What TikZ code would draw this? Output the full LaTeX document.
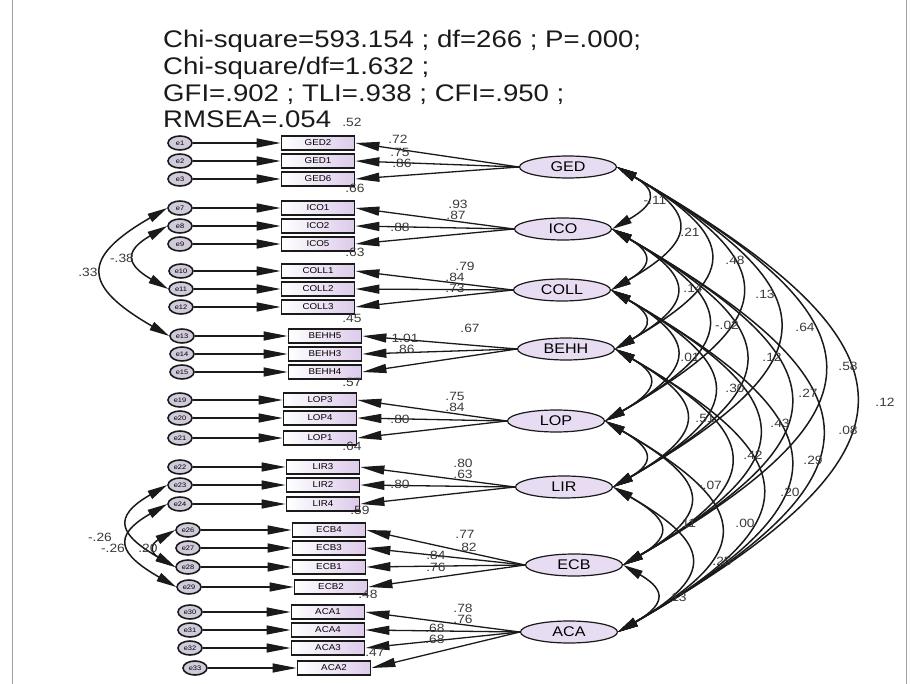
\documentclass[tikz,border=0pt]{standalone}
\usepackage{fontspec}
\setmainfont[FakeStretch=1.15]{Liberation Sans}
\usetikzlibrary{arrows.meta,shapes.geometric,positioning}
\definecolor{semLatent}{HTML}{E8DCF2}
\definecolor{semBox}{HTML}{DCCAEA}
\definecolor{semErr}{HTML}{D0CADB}
\definecolor{semInk}{HTML}{1A1A1A}
\definecolor{semLabel}{HTML}{3A3A3A}
\definecolor{semFrame}{HTML}{A0A0A0}
\tikzset{
  latent/.style={draw=semInk, ellipse, line width=1.2pt, fill=semLatent,
    minimum width=97pt, minimum height=22pt, inner sep=0pt,
    font=\fontsize{14}{14}\selectfont},
  indic/.style={draw=semInk, line width=1.8pt, left color=white, right color=semBox,
    minimum width=73pt, minimum height=14pt, inner sep=0pt,
    font=\fontsize{8.5}{8.5}\selectfont},
  errnode/.style={draw=semInk, ellipse, line width=1.6pt, fill=semErr,
    minimum width=24pt, minimum height=14pt, inner sep=0pt,
    font=\fontsize{6.5}{6.5}\selectfont},
  regpath/.style={line width=1.3pt, semInk, -{Triangle[length=24pt,width=9pt]}},
  cov/.style={line width=1.5pt, semInk,
    {Triangle[length=20pt,width=9pt]}-{Triangle[length=20pt,width=9pt]}},
  est/.style={font=\fontsize{12}{12}\selectfont, text=semLabel, inner sep=0pt},
  fitstat/.style={font=\fontsize{24}{24}\selectfont, text=semInk, inner sep=0pt, anchor=base west}
}
\begin{document}
\begin{tikzpicture}[x=1pt, y=1pt]
  \useasboundingbox (0,0) rectangle (910,-684);
  \draw[semFrame] (12,0) -- (12,-684) (906,0) -- (906,-684);

  % fit statistics
  \node[fitstat] (fitA) at (163,-48) {Chi-square=593.154 ; df=266 ; P=.000;};
  \node[fitstat, below=27pt of fitA.base west, anchor=base west] (fitB) {Chi-square/df=1.632 ;};
  \node[fitstat, below=27pt of fitB.base west, anchor=base west] (fitC) {GFI=.902 ; TLI=.938 ; CFI=.950 ;};
  \node[fitstat, below=26pt of fitC.base west, anchor=base west] (fitD) {RMSEA=.054};

  % latent factors
  \node[latent] (GED)  at (568,-167) {GED};
  \node[latent] (ICO)  at (563,-229) {ICO};
  \node[latent] (COLL) at (562,-290) {COLL};
  \node[latent] (BEHH) at (566,-349) {BEHH};
  \node[latent] (LOP)  at (556,-421) {LOP};
  \node[latent] (LIR)  at (564,-487) {LIR};
  \node[latent] (ECB)  at (574,-565) {ECB};
  \node[latent] (ACA)  at (569,-632) {ACA};

  % indicators with their error terms
  \foreach \n/\e/\y/\bx/\ex in {
    GED2/e1/143/318/180, GED1/e2/161/318/180, GED6/e3/179/318/180,
    ICO1/e7/208/318/180, ICO2/e8/226/318/180, ICO5/e9/244/318/180,
    COLL1/e10/271/318/181, COLL2/e11/289/318/181, COLL3/e12/307/318/181,
    BEHH5/e13/336/325/182, BEHH3/e14/354/325/182, BEHH4/e15/372/325/182,
    LOP3/e19/400/320/180, LOP4/e20/418/320/180, LOP1/e21/438/320/180,
    LIR3/e22/467/323/180, LIR2/e23/485/323/180, LIR4/e24/504/323/180,
    ECB4/e26/530/329/188, ECB3/e27/548/329/188, ECB1/e28/567/329/188, ECB2/e29/587/331/189,
    ACA1/e30/612/328/190, ACA4/e31/630/328/190, ACA3/e32/648/328/190, ACA2/e33/668/334/195}{
    \node[errnode] (\e) at (\ex,-\y) {\e};
    \node[indic] (\n) at (\bx,-\y) {\n};
    \draw[regpath] (\e) -- (\n);
  }

  % loadings
  \foreach \l/\n in {GED/GED2, GED/GED1, GED/GED6, ICO/ICO1, ICO/ICO2, ICO/ICO5,
    COLL/COLL1, COLL/COLL2, COLL/COLL3, BEHH/BEHH5, BEHH/BEHH3, BEHH/BEHH4,
    LOP/LOP3, LOP/LOP4, LOP/LOP1, LIR/LIR3, LIR/LIR2, LIR/LIR4,
    ECB/ECB4, ECB/ECB3, ECB/ECB1, ECB/ECB2, ACA/ACA1, ACA/ACA4, ACA/ACA3, ACA/ACA2}
    \draw[regpath] (\l.west) -- (\n.east);

  % factor covariances
  \foreach \a [count=\i] in {GED,ICO,COLL,BEHH,LOP,LIR,ECB,ACA}{
    \foreach \b [count=\j] in {GED,ICO,COLL,BEHH,LOP,LIR,ECB,ACA}{
      \ifnum\j>\i
        \draw[cov] (\a.east) to[out=-30, in=30, looseness=2] (\b.east);
      \fi
    }
  }

  % error covariances
  \draw[cov] (e7.west) to[out=210, in=150, looseness=2] (e13.west);
  \draw[cov] (e8.west) to[out=210, in=150, looseness=2] (e11.west);
  \draw[cov] (e23.west) to[out=210, in=150, looseness=2] (e28.west);
  \draw[cov] (e24.west) to[out=210, in=150, looseness=2] (e29.west);
  \draw[cov] (e26.west) to[out=210, in=150, looseness=2] (e28.west);

  % estimates
  \foreach \x/\y/\v [count=\k] in {
    352/122/.52, 398/139/.72, 400/152/.75, 402/163/.86, 355/188/.66,
    458/204/.93, 456/215/.87, 400/227/.88, 355/252/.63,
    465/266/.79, 455/277/.84, 455/288/.73, 352/318/.45,
    470/328/.67, 405/338/1.01, 405/349/.86, 352/382/.57,
    455/396/.75, 455/407/.84, 400/419/.80, 352/446/.64,
    463/463/.80, 463/474/.63, 400/484/.80, 360/510/.59,
    465/534/.77, 467/547/.82, 436/555/.84, 436/567/.76, 368/594/.48,
    463/608/.78, 463/619/.76, 435/628/.68, 435/639/.68, 375/652/.47,
    655/200/-.11, 690/232/.21, 735/260/.48, 765/294/.13, 805/327/.64, 848/366/.58, 885/402/.12,
    693/288/.14, 727/325/-.02, 772/357/.12, 808/393/.27, 848/430/.08,
    690/357/.01, 735/388/.30, 780/423/.43, 813/460/.29,
    705/418/.51, 753/455/.42, 790/492/.20,
    710/485/-.07, 745/523/.00, 687/523/.11, 722/561/.25, 677/597/.13,
    88/272/.33, 122/258/-.38, 100/537/-.26, 113/548/-.26, 148/548/.20}
    \node[est] (est\k) at (\x,-\y) {\v};
\end{tikzpicture}
\end{document}
